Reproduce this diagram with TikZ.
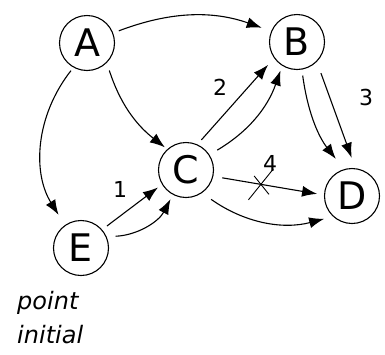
\documentclass[tikz,border=0pt]{standalone}
\usepackage{fontspec}
\setmainfont{DejaVu Sans}
\usetikzlibrary{arrows.meta,shapes.misc}
\begin{document}
\begin{tikzpicture}[x=1pt,y=-1pt,
  state/.style={circle,draw,line width=1.1pt,minimum size=55pt,inner sep=0pt,font=\fontsize{38}{38}\selectfont},
  edge/.style={line width=1.1pt,shorten <=6pt,shorten >=5pt,-{Latex[length=15pt,width=11pt]}},
  lbl/.style={font=\fontsize{22}{22}\selectfont,inner sep=0pt},
  cross/.style={cross out,draw,line width=0.9pt,minimum width=24pt,minimum height=30pt,inner sep=0pt}]
\useasboundingbox (0,0) rectangle (385,354);
\node[state] (A) at (87,43) {A};
\node[state] (B) at (297,42) {B};
\node[state] (C) at (186,170) {C};
\node[state] (D) at (352,196) {D};
\node[state] (E) at (81,248) {E};
% arcs leaving A
\draw[edge,shorten >=10pt] (A.21) to[bend left=20] (B.157);
\draw[edge,shorten <=8pt,shorten >=3pt] (A.-45) to[bend right=17] (C.132);
\draw[edge,shorten <=4pt,shorten >=12pt] (A.-119) to[bend right=35] (E.125);
% E to C
\draw[edge] (E.41) -- (C.211);
\node[lbl] (n1) at (120,189) {1};
\draw[edge,shorten <=9pt] (E.24) to[bend right=30] (C.242);
% C to B
\draw[edge,shorten >=9pt] (C.66) -- (B.215);
\node[lbl] (n2) at (220,87) {2};
\draw[edge,shorten <=9pt] (C.33) to[bend right=20] (B.238);
% B to D
\draw[edge,shorten >=13pt] (B.-80) to[bend right=15] (D.107);
\draw[edge,shorten <=12pt,shorten >=11pt] (B.-45) -- (D.83);
\node[lbl] (n3) at (366,97) {3};
% C to D
\draw[edge,shorten <=9pt,shorten >=7pt] (C.-13) -- node[cross,pos=0.43] (x) {} (D.178);
\node[lbl] (n4) at (270,163) {4};
\draw[edge,shorten <=11pt,shorten >=9pt] (C.-55) to[bend right=25] (D.227);
\node[font=\fontsize{24}{34}\selectfont\itshape,align=left,anchor=north west,inner sep=0pt] (t) at (17,291) {point\\initial};
\end{tikzpicture}
\end{document}
